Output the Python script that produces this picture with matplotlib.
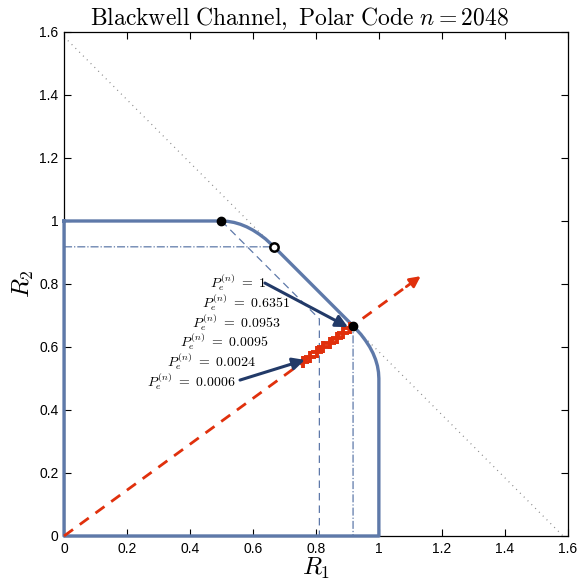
import matplotlib
matplotlib.use("Agg")
import matplotlib.pyplot as plt

plt.rcParams['mathtext.fontset'] = 'cm'
plt.rcParams['font.family'] = ['Liberation Sans', 'DejaVu Sans']

# capacity region boundary
region_r1 = [0.0, 0.5, 0.52, 0.54, 0.56, 0.58, 0.60, 0.62, 0.64, 0.667,
             0.918, 0.943, 0.958, 0.971, 0.9815, 0.9896, 0.9954, 0.9988, 1.0, 1.0, 0.0, 0.0]
region_r2 = [1.0, 1.0, 0.9988, 0.9954, 0.9896, 0.9815, 0.971, 0.958, 0.943, 0.918,
             0.667, 0.64, 0.62, 0.60, 0.58, 0.56, 0.54, 0.52, 0.5, 0.0, 0.0, 1.0]

# pentagon for the uniform input (dash-dot)
uni_r1 = [0.0, 0.667, 0.918, 0.918]
uni_r2 = [0.918, 0.918, 0.667, 0.0]

# pentagon for input (1/2, 1/4, 1/4) (dashed)
half_r1 = [0.5, 0.811, 0.811]
half_r2 = [1.0, 0.689, 0.0]

# sum-rate line R1 + R2 = log2(3)
sum_r1 = [0.0, 1.585]
sum_r2 = [1.585, 0.0]

# corner points
dots_filled = [(0.5, 1.0), (0.918, 0.667)]
dot_open = (0.667, 0.918)

# rate direction and achieved rates of the polar code
ray_tip = (1.14, 0.83)
cross_r1 = [0.760, 0.781, 0.802, 0.824, 0.845, 0.866, 0.887, 0.908]
cross_r2 = [0.552, 0.567, 0.583, 0.599, 0.614, 0.629, 0.645, 0.660]

pe_values = ['1', '0.6351', '0.0953', '0.0095', '0.0024', '0.0006']
label_x = [0.463, 0.438, 0.406, 0.368, 0.327, 0.263]
label_y = [0.803, 0.740, 0.676, 0.616, 0.552, 0.489]

blue = '#5e79a9'
red = '#e0300c'
navy = '#223a68'

fig = plt.figure(figsize=(5.77, 5.85), dpi=100)
ax = fig.add_axes([0.111, 0.0838, 0.873, 0.8615])

ax.plot(sum_r1, sum_r2, color='#8a8a8a', lw=0.9, dashes=(0.8, 3.5))
ax.plot(uni_r1, uni_r2, '-.', color=blue, lw=0.9)
ax.plot(half_r1, half_r2, '--', color=blue, lw=0.9, dashes=(6, 4))
ax.plot(region_r1, region_r2, '-', color=blue, lw=2.4, solid_joinstyle='round', clip_on=False, zorder=3)

ax.plot([0, ray_tip[0] - 0.03], [0, ray_tip[1] - 0.03 * ray_tip[1] / ray_tip[0]],
        '--', color=red, lw=2.0, dashes=(4, 3), clip_on=False, zorder=4)
ax.annotate('', xy=ray_tip, xytext=(ray_tip[0] - 0.06, ray_tip[1] - 0.06 * ray_tip[1] / ray_tip[0]),
            arrowprops=dict(arrowstyle='-|>', color=red, lw=2.0, mutation_scale=16), zorder=4)

ax.plot(cross_r1, cross_r2, '+', color=red, ms=9, mew=2.8, zorder=5)

for (x, y) in dots_filled:
    ax.plot(x, y, 'o', color='black', ms=6, zorder=6)
ax.plot(dot_open[0], dot_open[1], 'o', mfc='white', mec='black', mew=1.8, ms=6, zorder=6)

for px, py, v in zip(label_x, label_y, pe_values):
    ax.text(px, py, r'$P_e^{(n)}\ =\ %s$' % v, fontsize=10, ha='left', va='center', zorder=7)

ax.annotate('', xy=(0.902, 0.663), xytext=(0.638, 0.803),
            arrowprops=dict(arrowstyle='-|>', color=navy, lw=2.2, mutation_scale=18,
                            shrinkA=0, shrinkB=0), zorder=7)
ax.annotate('', xy=(0.765, 0.559), xytext=(0.559, 0.495),
            arrowprops=dict(arrowstyle='-|>', color=navy, lw=2.2, mutation_scale=18,
                            shrinkA=0, shrinkB=0), zorder=7)

ax.set_xlim(0, 1.6)
ax.set_ylim(0, 1.6)
ticks = [0, 0.2, 0.4, 0.6, 0.8, 1.0, 1.2, 1.4, 1.6]
tick_labels = ['0', '0.2', '0.4', '0.6', '0.8', '1', '1.2', '1.4', '1.6']
ax.set_xticks(ticks)
ax.set_xticklabels(tick_labels)
ax.set_yticks(ticks)
ax.set_yticklabels(tick_labels)
ax.tick_params(direction='in', top=True, right=True, length=5, width=0.8, labelsize=10, pad=4)
for s in ax.spines.values():
    s.set_linewidth(0.9)

ax.set_xlabel(r'$R_1$', fontsize=18, labelpad=0)
ax.set_ylabel(r'$R_2$', fontsize=18, labelpad=2)
ax.set_title(r'$\mathrm{Blackwell\ Channel,\ Polar\ Code}\ n = 2048$', fontsize=17, x=0.468, pad=5)

fig.savefig('out.png', dpi=100)
